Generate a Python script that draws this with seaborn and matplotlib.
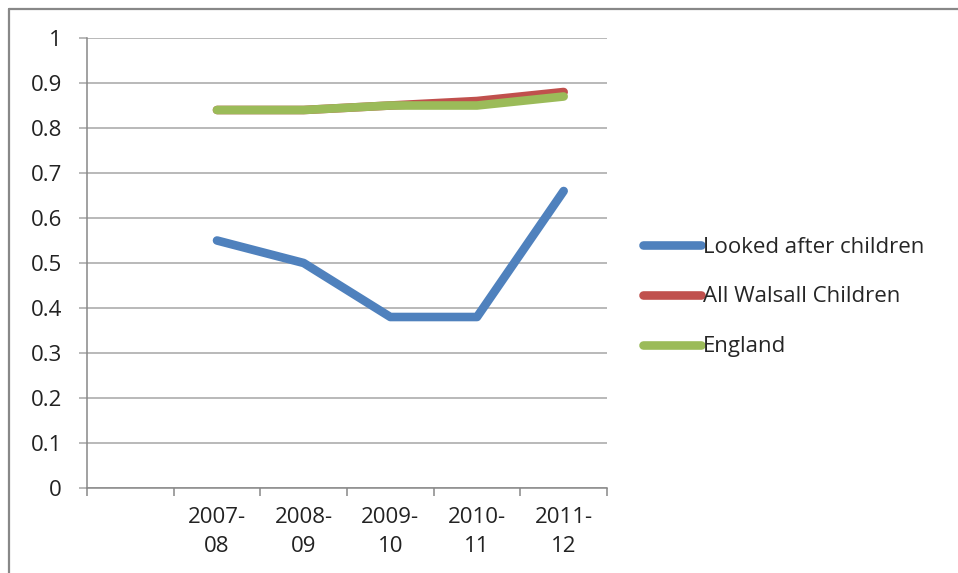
import pandas as pd
import numpy as np
import matplotlib.pyplot as plt
import seaborn as sns
from matplotlib.lines import Line2D

sns.set_theme(style="white")
plt.rcParams['font.family'] = ['Open Sans', 'DejaVu Sans']

# data (first category slot is empty)
categories = ['', '2007-\n08', '2008-\n09', '2009-\n10', '2010-\n11', '2011-\n12']
looked_after = [0.55, 0.50, 0.38, 0.38, 0.66]
walsall = [0.84, 0.84, 0.85, 0.86, 0.88]
england = [0.84, 0.84, 0.85, 0.85, 0.87]
series_names = ['Looked after children', 'All Walsall Children', 'England']
colors = ['#4F81BD', '#C0504D', '#9BBB59']

pos = np.arange(1, len(categories))
df = pd.concat([
    pd.DataFrame({'pos': pos, 'value': looked_after, 'series': series_names[0]}),
    pd.DataFrame({'pos': pos, 'value': walsall, 'series': series_names[1]}),
    pd.DataFrame({'pos': pos, 'value': england, 'series': series_names[2]}),
])

fs = 16
fig = plt.figure(figsize=(9.58, 5.73), dpi=100)
ax = fig.add_axes([87 / 958, 1 - 488 / 573, 520 / 958, 450 / 573])

sns.lineplot(data=df, x='pos', y='value', hue='series', hue_order=series_names,
             palette=colors, linewidth=6.2, ax=ax, legend=False,
             solid_capstyle='round', solid_joinstyle='round')

ax.set_xlim(-0.5, len(categories) - 0.5)
ax.set_ylim(0, 1)
ax.set_yticks(np.arange(0, 1.01, 0.1))
ax.set_yticklabels(['0'] + [f'{v:.1f}' for v in np.arange(0.1, 1.0, 0.1)] + ['1'])
ax.yaxis.grid(True, color='#A6A6A6', linewidth=1.1)
ax.set_axisbelow(True)

ax.set_xticks(np.arange(len(categories)))
ax.set_xticklabels(categories, linespacing=1.5)
ax.set_xticks(np.arange(-0.5, len(categories)), minor=True)
ax.tick_params(axis='x', which='major', length=0, pad=14, labelsize=fs, colors='#222222')
ax.tick_params(axis='x', which='minor', length=6, direction='out', color='#888888', width=1.1, bottom=True)
ax.tick_params(axis='y', length=6, direction='out', color='#A6A6A6', width=1.1, left=True,
               labelsize=fs, labelcolor='#222222', pad=12)

for s in ['top', 'right']:
    ax.spines[s].set_visible(False)
for s in ['left', 'bottom']:
    ax.spines[s].set_color('#888888')
    ax.spines[s].set_linewidth(1.1)
ax.set_xlabel('')
ax.set_ylabel('')

handles = [Line2D([], [], color=c, linewidth=6.2, solid_capstyle='round') for c in colors]
fig.legend(handles, series_names, loc='center left', bbox_to_anchor=(643 / 958, 1 - 297 / 573),
           frameon=False, fontsize=fs, handlelength=2.6, handletextpad=0.1, labelspacing=1.3,
           borderaxespad=0, borderpad=0)

# chart-area border (top and left edges visible)
fig.add_artist(Line2D([9 / 958, 1], [1 - 9 / 573] * 2, transform=fig.transFigure,
                      color='#888888', linewidth=1.6))
fig.add_artist(Line2D([9 / 958] * 2, [0, 1 - 9 / 573], transform=fig.transFigure,
                      color='#888888', linewidth=1.6))

fig.savefig('out.png', dpi=100)
